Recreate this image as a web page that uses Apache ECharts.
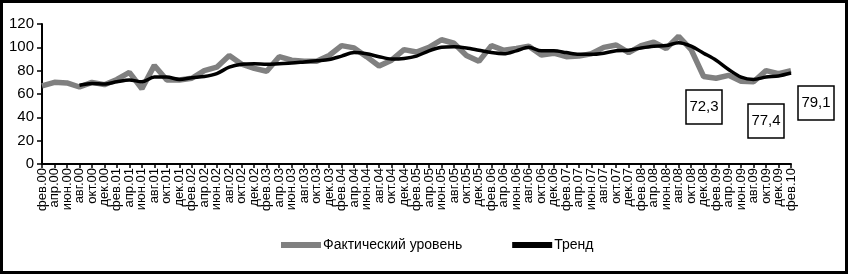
<!DOCTYPE html>
<html>
<head>
<meta charset="utf-8">
<script src="https://cdn.jsdelivr.net/npm/echarts@6/dist/echarts.min.js"></script>
<style>
  body { margin: 0; background: #fff; }
  #chart { width: 848px; height: 274px; }
</style>
</head>
<body>
<div id="chart"></div>
<script>
  // подписи оси: каждые два месяца, фев.00 ... фев.10
  var monthNames = ['фев', 'апр', 'июн', 'авг', 'окт', 'дек']
  var years = ['00', '01', '02', '03', '04', '05', '06', '07', '08', '09', '10']
  var categories = []
  years.forEach(function (y) {
    monthNames.forEach(function (m) {
      if (y === '10' && m !== 'фев') return
      categories.push(m + '.' + y)
    })
  })

  var actual = [
    67, 70, 69.5, 66, 70, 68, 72.5, 78.5, 64.5, 84.5,
    72, 72, 73.5, 80, 83, 93, 85.5, 82, 79.5, 92,
    89, 88, 88, 93, 101.5, 99.5, 92, 84, 89, 98,
    96, 100, 106.5, 103.5, 93, 88, 101.5, 97.5, 99, 101,
    93.5, 95, 92, 92.5, 94.5, 100, 102, 95.5, 101.5, 104.5,
    99, 109.5, 98, 75, 73.5, 76, 71, 70.5, 80, 77.5,
    80
  ]

  var trend = [
    null, null, null, 67.5, 69, 68.5, 70.5, 72, 70.5, 74.5,
    74.5, 72.5, 74, 75, 77.5, 83, 85.5, 86, 85.5, 86,
    86.5, 87.5, 88.5, 89.5, 92.5, 95.5, 94.5, 92, 90, 90.5,
    92.5, 97, 100, 100.5, 99.5, 97.5, 95.5, 94.5, 97, 100,
    97, 97, 95.5, 94, 94, 95, 97, 97.5, 99.5, 101,
    101.5, 104, 101, 95, 89, 81, 74.5, 72.5, 74.5, 75.5,
    78
  ]

  // подписи в рамках справа
  var notes = [
    { text: '72,3', x: 686, y: 90 },
    { text: '77,4', x: 748, y: 104 },
    { text: '79,1', x: 798, y: 86 }
  ]

  var font = "'Liberation Sans Narrow', 'Liberation Sans', Arial, sans-serif"

  var chart = echarts.init(document.getElementById('chart'), null, { renderer: 'canvas' })

  var graphics = [{
    type: 'rect',
    shape: { x: 1.5, y: 1.5, width: 845, height: 271 },
    style: { fill: 'none', stroke: '#000', lineWidth: 3 },
    z: 100
  }]
  notes.forEach(function (n) {
    graphics.push({
      type: 'group',
      x: n.x,
      y: n.y,
      children: [
        { type: 'rect', shape: { x: 0, y: 0, width: 36, height: 34 },
          style: { fill: '#fff', stroke: '#000', lineWidth: 1.5 } },
        { type: 'text', x: 18, y: 17,
          style: { text: n.text, font: '15px ' + font, fill: '#000',
                   align: 'center', verticalAlign: 'middle' } }
      ]
    })
  })

  chart.setOption({
    animation: false,
    backgroundColor: '#fff',
    grid: { left: 42, right: 57, top: 24, bottom: 110, containLabel: false },
    legend: {
      bottom: 17,
      left: 276,
      itemGap: 50,
      itemWidth: 40,
      itemHeight: 6,
      textStyle: { fontFamily: font, fontSize: 14, color: '#000', padding: [0, 0, 0, -3] },
      data: [
        { name: 'Фактический уровень', icon: 'rect', itemStyle: { color: '#808080' } },
        { name: 'Тренд', icon: 'rect', itemStyle: { color: '#000' } }
      ]
    },
    xAxis: {
      type: 'category',
      data: categories,
      boundaryGap: false,
      axisLine: { lineStyle: { color: '#000', width: 2 } },
      axisTick: { interval: 0, length: 4, lineStyle: { color: '#000', width: 1.5 } },
      axisLabel: { interval: 0, rotate: 90, margin: 4, fontFamily: font, fontSize: 13, color: '#000' },
      splitLine: { show: false }
    },
    yAxis: {
      type: 'value',
      min: 0,
      max: 120,
      interval: 20,
      axisLine: { show: true, lineStyle: { color: '#000', width: 2 } },
      axisTick: { show: true, length: 5, lineStyle: { color: '#000', width: 1.5 } },
      axisLabel: { margin: 8, fontFamily: font, fontSize: 15, color: '#000' },
      splitLine: { show: false }
    },
    series: [
      {
        name: 'Фактический уровень',
        type: 'line',
        data: actual,
        symbol: 'none',
        lineStyle: { color: '#808080', width: 5.5 },
        itemStyle: { color: '#808080' }
      },
      {
        name: 'Тренд',
        type: 'line',
        data: trend,
        symbol: 'none',
        smooth: 0.3,
        lineStyle: { color: '#000', width: 3.5 },
        itemStyle: { color: '#000' }
      }
    ],
    graphic: graphics
  })
</script>
</body>
</html>
